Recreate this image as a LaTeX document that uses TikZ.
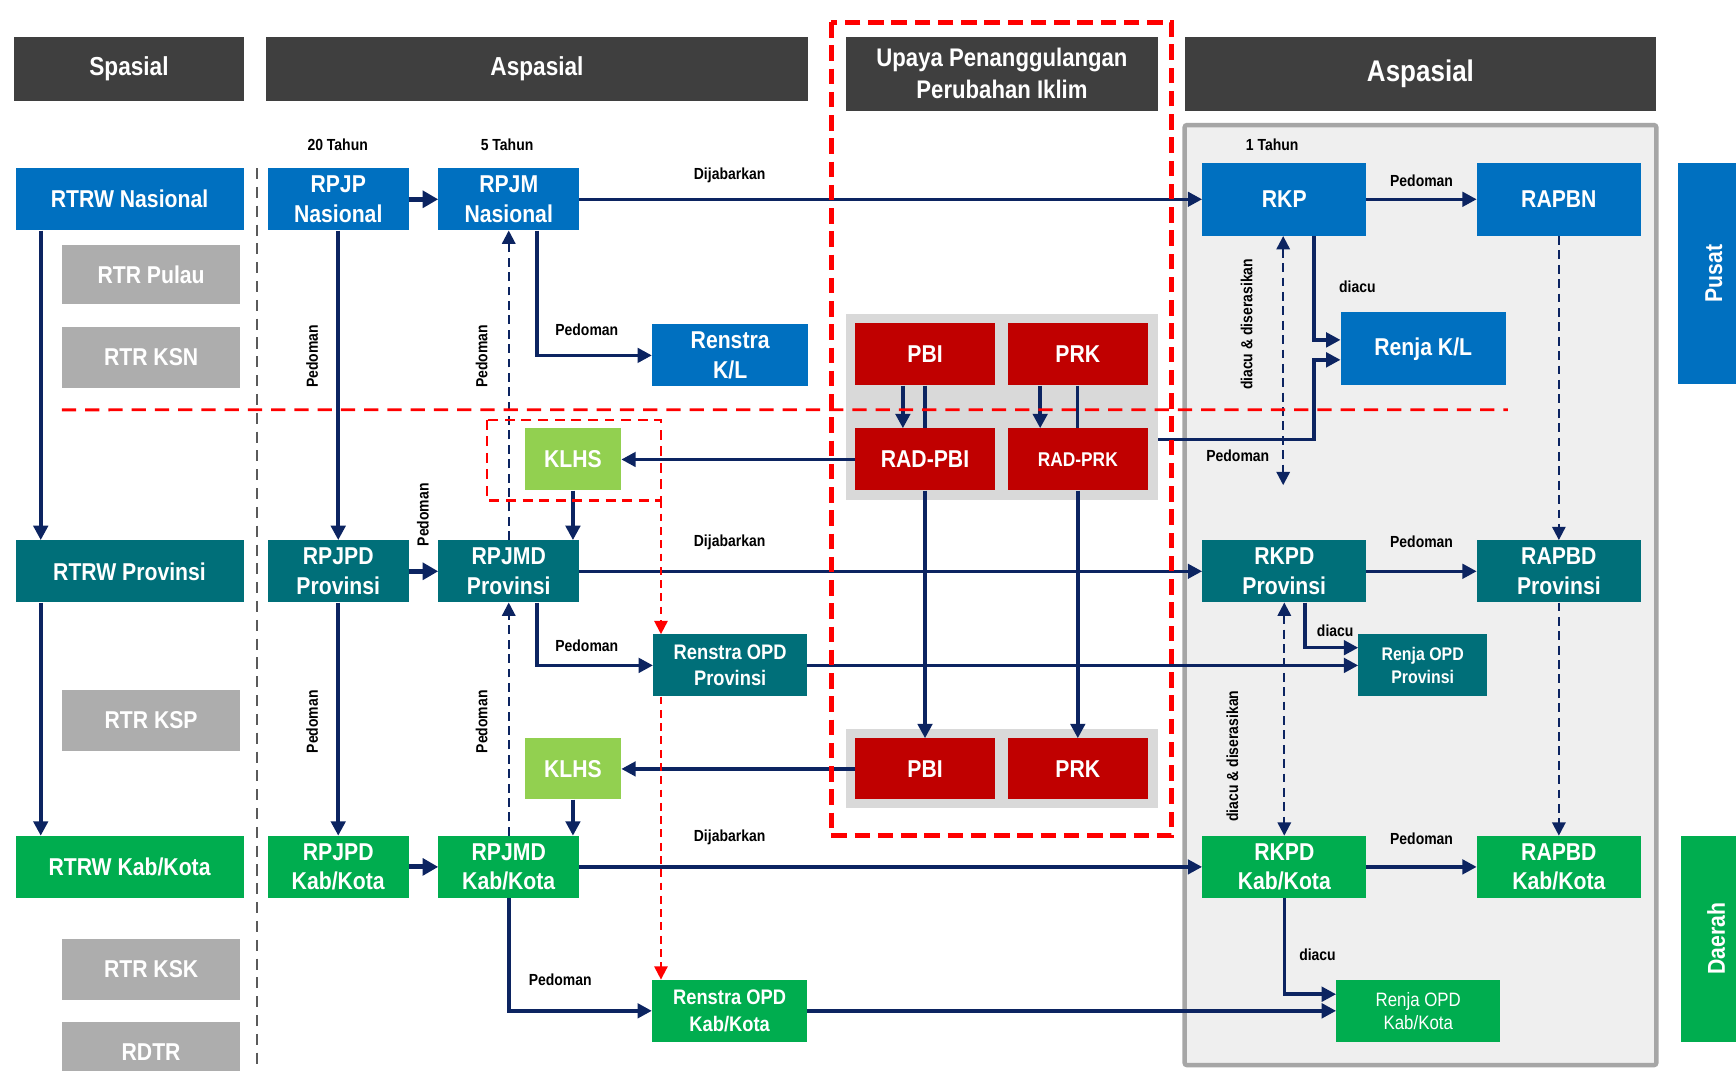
\documentclass[tikz,border=0pt]{standalone}
\usepackage{fontspec}
\setmainfont{Liberation Sans}[FakeStretch=0.87]
\usetikzlibrary{arrows.meta,calc}
\definecolor{cblue}{HTML}{0070C0}
\definecolor{cteal}{HTML}{006F79}
\definecolor{cgreen}{HTML}{00AD4F}
\definecolor{clgreen}{HTML}{92D050}
\definecolor{cred}{HTML}{C00000}
\definecolor{cgrey}{HTML}{ADADAD}
\definecolor{cpanel}{HTML}{D9D9D9}
\definecolor{chead}{HTML}{3F3F3F}
\definecolor{cnavy}{HTML}{0C2461}
\definecolor{cbg}{HTML}{EFEFEF}
\definecolor{cframe}{HTML}{A6A6A6}
\definecolor{cdash}{HTML}{FF0000}
\definecolor{cgdash}{HTML}{5A5A5A}
\begin{document}
\begin{tikzpicture}[x=1pt,y=-1pt,
  bx/.style={inner sep=0pt,text=white,align=center,font=\bfseries\fontsize{22}{27}\selectfont},
  hd/.style={bx,fill=chead,font=\bfseries\fontsize{23.5}{29}\selectfont},
  lbl/.style={inner sep=0pt,text=black,font=\bfseries\fontsize{14.5}{17}\selectfont},
  arr/.style={draw=cnavy,line width=3.2pt,-{Triangle[length=13pt,width=13pt]}},
  sarr/.style={draw=cnavy,line width=4.5pt,-{Triangle[length=14pt,width=15pt]}},
  darr/.style={draw=cnavy,line width=2pt,dash pattern=on 8pt off 5pt,-{Triangle[length=12pt,width=12pt]}},
  dbl/.style={draw=cnavy,line width=2pt,dash pattern=on 8pt off 5pt,{Triangle[length=12pt,width=12pt]}-{Triangle[length=12pt,width=12pt]}},
  rarr/.style={draw=cdash,line width=1.8pt,dash pattern=on 7pt off 5pt,-{Triangle[length=12pt,width=12pt]}},
  plain/.style={draw=cnavy,line width=2.8pt}
]
\useasboundingbox[fill=white] (0,0) rectangle (1568,967);

% background frames
\draw[fill=cbg,draw=cframe,line width=4pt,rounded corners=2pt] (1070,113) rectangle (1496,962);
\node[fill=cpanel,minimum width=282pt,minimum height=168pt,inner sep=0pt] (panelA) at (905,368) {};
\node[fill=cpanel,minimum width=282pt,minimum height=72pt,inner sep=0pt] (panelB) at (905,694) {};

% headers
\node[hd,minimum width=207pt,minimum height=58pt] (hSp) at (116.5,62) {Spasial};
\node[hd,minimum width=490pt,minimum height=58pt] (hAs) at (485,62) {Aspasial};
\node[hd,minimum width=282pt,minimum height=67pt,font=\bfseries\fontsize{23}{29}\selectfont] (hUp) at (905,66.5) {Upaya Penanggulangan\\Perubahan Iklim};
\node[hd,minimum width=426pt,minimum height=67pt,font=\bfseries\fontsize{27}{30}\selectfont] (hAs2) at (1283,66.5) {Aspasial};

% side tabs
\node[bx,fill=cblue,minimum width=64pt,minimum height=200pt] (pusat) at (1548,247) {};
\node[bx,rotate=90] (pusatT) at (1548,247) {Pusat};
\node[bx,fill=cgreen,minimum width=62pt,minimum height=186pt] (daerah) at (1549,848) {};
\node[bx,rotate=90] (daerahT) at (1550,848) {Daerah};

% spasial column
\node[bx,fill=cblue,minimum width=206pt,minimum height=56pt] (rtrwN) at (117,180) {RTRW Nasional};
\node[bx,fill=cgrey,minimum width=161pt,minimum height=54pt] (rtrP) at (136.5,248) {RTR Pulau};
\node[bx,fill=cgrey,minimum width=161pt,minimum height=55pt] (rtrKSN) at (136.5,322.5) {RTR KSN};
\node[bx,fill=cteal,minimum width=206pt,minimum height=56pt] (rtrwP) at (117,516) {RTRW Provinsi};
\node[bx,fill=cgrey,minimum width=161pt,minimum height=55pt] (rtrKSP) at (136.5,650.5) {RTR KSP};
\node[bx,fill=cgreen,minimum width=206pt,minimum height=56pt] (rtrwK) at (117,783) {RTRW Kab/Kota};
\node[bx,fill=cgrey,minimum width=161pt,minimum height=55pt] (rtrKSK) at (136.5,875.5) {RTR KSK};
\node[bx,fill=cgrey,minimum width=161pt,minimum height=55pt] (rdtr) at (136.5,950.5) {RDTR};

% RPJP column
\node[lbl] (t20) at (305,131) {20 Tahun};
\node[lbl] (t5) at (458,131) {5 Tahun};
\node[bx,fill=cblue,minimum width=127pt,minimum height=56pt] (rpjpN) at (305.5,180) {RPJP\\Nasional};
\node[bx,fill=cteal,minimum width=127pt,minimum height=56pt] (rpjpdP) at (305.5,516) {RPJPD\\Provinsi};
\node[bx,fill=cgreen,minimum width=127pt,minimum height=56pt] (rpjpdK) at (305.5,783) {RPJPD\\Kab/Kota};
\node[bx,fill=cblue,minimum width=127pt,minimum height=56pt] (rpjmN) at (459.5,180) {RPJM\\Nasional};
\node[bx,fill=cteal,minimum width=127pt,minimum height=56pt] (rpjmdP) at (459.5,516) {RPJMD\\Provinsi};
\node[bx,fill=cgreen,minimum width=127pt,minimum height=56pt] (rpjmdK) at (459.5,783) {RPJMD\\Kab/Kota};

% Renstra
\node[bx,fill=cblue,minimum width=141pt,minimum height=56pt] (renKL) at (659.5,321) {Renstra\\K/L};
\node[bx,fill=cteal,minimum width=139pt,minimum height=56pt,font=\bfseries\fontsize{19}{24}\selectfont] (renOP) at (659.5,601) {Renstra OPD\\Provinsi};
\node[bx,fill=cgreen,minimum width=140pt,minimum height=56pt,font=\bfseries\fontsize{19}{24}\selectfont] (renOK) at (659,913) {Renstra OPD\\Kab/Kota};

% KLHS
\node[bx,fill=clgreen,minimum width=87pt,minimum height=56pt] (klhsA) at (517.5,415) {KLHS};
\node[bx,fill=clgreen,minimum width=87pt,minimum height=55pt] (klhsB) at (517.5,694.5) {KLHS};

% climate boxes
\node[bx,fill=cred,minimum width=127pt,minimum height=56pt] (pbiA) at (835.5,320) {PBI};
\node[bx,fill=cred,minimum width=127pt,minimum height=56pt] (prkA) at (973.5,320) {PRK};
\node[bx,fill=cred,minimum width=127pt,minimum height=56pt] (radpbi) at (835.5,415) {RAD-PBI};
\node[bx,fill=cred,minimum width=127pt,minimum height=56pt,font=\bfseries\fontsize{18}{22}\selectfont] (radprk) at (973.5,415) {RAD-PRK};
\node[bx,fill=cred,minimum width=127pt,minimum height=55pt] (pbiB) at (835.5,694.5) {PBI};
\node[bx,fill=cred,minimum width=127pt,minimum height=55pt] (prkB) at (973.5,694.5) {PRK};

% right block
\node[lbl] (t1) at (1149,131) {1 Tahun};
\node[bx,fill=cblue,minimum width=148pt,minimum height=66pt] (rkp) at (1160,180) {RKP};
\node[bx,fill=cblue,minimum width=148pt,minimum height=66pt] (rapbn) at (1408,180) {RAPBN};
\node[bx,fill=cblue,minimum width=149pt,minimum height=66pt] (renjaKL) at (1285.5,315) {Renja K/L};
\node[bx,fill=cteal,minimum width=148pt,minimum height=56pt] (rkpdP) at (1160,516) {RKPD\\Provinsi};
\node[bx,fill=cteal,minimum width=148pt,minimum height=56pt] (rapbdP) at (1408,516) {RAPBD\\Provinsi};
\node[bx,fill=cteal,minimum width=116pt,minimum height=56pt,font=\bfseries\fontsize{16.5}{21}\selectfont] (renjaOP) at (1285,601) {Renja OPD\\Provinsi};
\node[bx,fill=cgreen,minimum width=148pt,minimum height=56pt] (rkpdK) at (1160,783) {RKPD\\Kab/Kota};
\node[bx,fill=cgreen,minimum width=148pt,minimum height=56pt] (rapbdK) at (1408,783) {RAPBD\\Kab/Kota};
\node[bx,fill=cgreen,minimum width=148pt,minimum height=56pt,font=\mdseries\fontsize{17.5}{21}\selectfont] (renjaOK) at (1281,913) {Renja OPD\\Kab/Kota};

% gray dashed separator
\coordinate (sepTop) at ($(rtrwN.north east)+(12,0)$);
\coordinate (sepBot) at ($(rtrwN.north east)+(12,830)$);
\draw[cgdash,line width=1.8pt,dash pattern=on 10pt off 7pt] (sepTop) -- (sepBot);

% spasial arrows
\draw[arr] ($(rtrwN.south west)+(23,0)$) -- ($(rtrwP.north west)+(23,0)$);
\draw[arr] ($(rtrwP.south west)+(23,0)$) -- ($(rtrwK.north west)+(23,0)$);

% RPJP down arrows
\draw[arr] (rpjpN.south) -- (rpjpdP.north);
\draw[arr] (rpjpdP.south) -- (rpjpdK.north);
\node[lbl,rotate=90] at (282,322) {Pedoman};
\node[lbl,rotate=90] at (282,652) {Pedoman};

% RPJM dashed up arrows
\draw[darr] (rpjmdP.north) -- (rpjmN.south);
\draw[darr] (rpjmdK.north) -- (rpjmdP.south);
\node[lbl,rotate=90] at (435,322) {Pedoman};
\node[lbl,rotate=90] at (435,652) {Pedoman};
\node[lbl,rotate=90] at (382,465) {Pedoman};

% short thick arrows
\draw[sarr] (rpjpN.east) -- (rpjmN.west);
\draw[sarr] (rpjpdP.east) -- (rpjmdP.west);
\draw[sarr] (rpjpdK.east) -- (rpjmdK.west);

% KLHS to RPJMD
\draw[arr] (klhsA.south) -- (rpjmdP.north -| klhsA.south);
\draw[arr] (klhsB.south) -- (rpjmdK.north -| klhsB.south);

% RPJM to Renstra
\draw[arr] ($(rpjmN.south west)+(89,0)$) |- (renKL.west);
\node[lbl] at (530,298) {Pedoman};
\draw[arr] ($(rpjmdP.south west)+(89,0)$) |- (renOP.west);
\node[lbl] at (530,583) {Pedoman};
\draw[arr] (rpjmdK.south) |- (renOK.west);
\node[lbl] at (506,885) {Pedoman};

% Dijabarkan
\draw[arr] (rpjmN.east) -- (rkp.west);
\node[lbl] at (659,158) {Dijabarkan};
\draw[arr] (rpjmdP.east) -- (rkpdP.west);
\node[lbl] at (659,490) {Dijabarkan};
\draw[arr] (rpjmdK.east) -- (rkpdK.west);
\node[lbl] at (659,756) {Dijabarkan};

% climate arrows
\draw[arr] ($(pbiA.south)+(-20,0)$) -- ($(radpbi.north)+(-20,0)$);
\draw[plain] (pbiA.south) -- (radpbi.north);
\draw[arr] ($(prkA.south)+(-34,0)$) -- ($(radprk.north)+(-34,0)$);
\draw[plain] (prkA.south) -- (radprk.north);
\draw[arr] (radpbi.south) -- (pbiB.north);
\draw[arr] (radprk.south) -- (prkB.north);
\draw[arr] (radpbi.west) -- (klhsA.east);
\draw[arr] (pbiB.west) -- (klhsB.east);

% RAD-PRK to Renja K/L
\draw[arr] ($(radprk.north east)+(9,10)$) -| ($(renjaKL.west)+(-24,10)$) -- ($(renjaKL.west)+(0,10)$);
\node[lbl] at (1118,412) {Pedoman};

% right block arrows
\draw[arr] (rkp.east) -- (rapbn.west);
\node[lbl] at (1284,163) {Pedoman};
\draw[arr] ($(rkp.south west)+(101,0)$) |- ($(renjaKL.west)+(0,-8)$);
\node[lbl] at (1226,259) {diacu};
\coordinate (rkpEnd) at ($(rkp.south)+(-1,225)$);
\draw[dbl] ($(rkp.south)+(-1,0)$) -- (rkpEnd);
\node[lbl,rotate=90] at (1126,293) {diacu \& diserasikan};
\draw[darr] (rapbn.south) -- (rapbdP.north);
\draw[darr] (rapbdP.south) -- (rapbdK.north);

\draw[arr] (rkpdP.east) -- (rapbdP.west);
\node[lbl] at (1284,489) {Pedoman};
\draw[arr] ($(rkpdP.south west)+(93,0)$) |- ($(renjaOP.west)+(0,-16)$);
\node[lbl] at (1206,570) {diacu};
\draw[arr] (renOP.east) -- (renjaOP.west);
\draw[dbl] (rkpdP.south) -- (rkpdK.north);
\node[lbl,rotate=90] at (1113,683) {diacu \& diserasikan};

\draw[arr] (rkpdK.east) -- (rapbdK.west);
\node[lbl] at (1284,758) {Pedoman};
\draw[arr] (rkpdK.south) |- ($(renjaOK.west)+(0,-15)$);
\node[lbl] at (1190,862) {diacu};
\draw[arr] (renOK.east) -- (renjaOK.west);

% red dashed elements
\draw[cdash,line width=4.5pt,dash pattern=on 14pt off 7pt] (751,20) rectangle (1058,755);
\coordinate (redL) at ($(rtrKSN.south west)+(0,20)$);
\coordinate (redR) at (1362,370);
\draw[cdash,line width=2.5pt,dash pattern=on 13pt off 8pt] (redL) -- (redR);
\draw[cdash,line width=2pt,dash pattern=on 9pt off 6pt] (440,379) rectangle (597,452);
\coordinate (kbox) at (597,452);
\draw[rarr] (kbox) -- (renOP.north -| kbox);
\draw[rarr] (renOP.south -| kbox) -- (renOK.north -| kbox);
\end{tikzpicture}
\end{document}
